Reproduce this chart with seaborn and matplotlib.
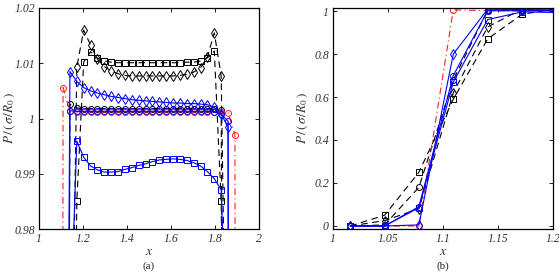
import pandas as pd
import seaborn as sns
import matplotlib.pyplot as plt

# cell centres of the grid (shared by both panels)
x_grid = [1.0156, 1.0469, 1.0781, 1.1094, 1.1406, 1.1719, 1.2031, 1.2344,
          1.2656, 1.2969, 1.3281, 1.3594, 1.3906, 1.4219, 1.4531, 1.4844,
          1.5156, 1.5469, 1.5781, 1.6094, 1.6406, 1.6719, 1.7031, 1.7344,
          1.7656, 1.7969, 1.8281, 1.8594, 1.8906, 1.9219, 1.9531, 1.9844]

black_sq = [0, 0.05, 0.25, 0.59, 0.87, 0.985, 1.0102, 1.0121,
            1.0109, 1.0104, 1.0102, 1.0101, 1.0101, 1.0101, 1.0101, 1.0101,
            1.0101, 1.0101, 1.0101, 1.0101, 1.0101, 1.0102, 1.0102, 1.0104,
            1.0110, 1.0122, 0.985, 0.87, 0.59, 0.25, 0.05, 0]
black_di = [0, 0.025, 0.08, 0.62, 0.926, 1.0093, 1.0160, 1.0133,
            1.0107, 1.0094, 1.0086, 1.0081, 1.0078, 1.0077, 1.0077, 1.0077,
            1.0077, 1.0077, 1.0077, 1.0077, 1.0078, 1.0080, 1.0084, 1.0092,
            1.0112, 1.0155, 1.0077, 0.926, 0.62, 0.08, 0.025, 0]
black_ci = [0, 0.005, 0.18, 0.68, 1.0026, 1.0019, 1.0018, 1.0018,
            1.0018, 1.0018, 1.0018, 1.0018, 1.0018, 1.0018, 1.0018, 1.0018,
            1.0018, 1.0018, 1.0018, 1.0018, 1.0018, 1.0018, 1.0018, 1.0018,
            1.0018, 1.0017, 1.0015, 0.75, 0.3, 0.02, 0, 0]
red_ci = [0, 0, 0, 1.0056, 1.0013, 1.0012, 1.0012, 1.0012,
          1.0012, 1.0012, 1.0012, 1.0012, 1.0012, 1.0012, 1.0012, 1.0012,
          1.0012, 1.0012, 1.0012, 1.0012, 1.0012, 1.0012, 1.0012, 1.0012,
          1.0012, 1.0012, 1.0011, 1.0010, 0.9971, 0, 0, 0]
blue_sq = [0, 0, 0.085, 0.67, 0.96, 0.9959, 0.9930, 0.9914,
           0.9907, 0.9903, 0.9903, 0.9904, 0.9908, 0.9911, 0.9915, 0.9918,
           0.9922, 0.9925, 0.9926, 0.9927, 0.9926, 0.9924, 0.9920, 0.9914,
           0.9904, 0.9891, 0.9871, 0.95, 0.6, 0, 0, 0]
blue_ci = [0, 0, 0.09, 0.70, 1.0014, 1.0013, 1.0013, 1.0013,
           1.0013, 1.0013, 1.0013, 1.0013, 1.0013, 1.0013, 1.0013, 1.0013,
           1.0013, 1.0013, 1.0013, 1.0013, 1.0013, 1.0013, 1.0013, 1.0013,
           1.0013, 1.0012, 1.0008, 0.9995, 0.05, 0, 0, 0]
blue_di = [0, 0, 0.005, 0.80, 1.0085, 1.0067, 1.0056, 1.0050,
           1.0046, 1.0043, 1.0040, 1.0038, 1.0036, 1.0034, 1.0033, 1.0032,
           1.0031, 1.0030, 1.0029, 1.0028, 1.0028, 1.0027, 1.0027, 1.0026,
           1.0025, 1.0020, 1.0008, 0.9984, 0.05, 0, 0, 0]

left_xticks = [1, 1.2, 1.4, 1.6, 1.8, 2]
left_xlabels = ['1', '1.2', '1.4', '1.6', '1.8', '2']
left_yticks = [0.98, 0.99, 1.0, 1.01, 1.02]
left_ylabels = ['0.98', '0.99', '1', '1.01', '1.02']
right_xticks = [1, 1.05, 1.1, 1.15, 1.2]
right_xlabels = ['1', '1.05', '1.1', '1.15', '1.2']
right_yticks = [0, 0.2, 0.4, 0.6, 0.8, 1]
right_ylabels = ['0', '0.2', '0.4', '0.6', '0.8', '1']

sns.set_style('ticks')
plt.rcParams['font.family'] = ['Liberation Serif', 'DejaVu Serif']
plt.rcParams['mathtext.fontset'] = 'stix'

series = [
    ('black_sq', black_sq, 'black', (0, (6, 4)), 's'),
    ('black_di', black_di, 'black', (0, (6, 4)), 'd'),
    ('black_ci', black_ci, 'black', (0, (6, 4)), 'o'),
    ('red_ci', red_ci, '#ff2020', (0, (6, 3, 1, 3)), 'o'),
    ('blue_sq', blue_sq, '#0000ff', '-', 's'),
    ('blue_ci', blue_ci, '#0000ff', '-', 'o'),
    ('blue_di', blue_di, '#0000ff', '-', 'd'),
]

frames = []
for name, vals, _, _, _ in series:
    frames.append(pd.DataFrame({'x': x_grid, 'P': vals, 'series': name}))
df = pd.concat(frames, ignore_index=True)

fig = plt.figure(figsize=(5.59, 2.75), dpi=100)
ax_a = fig.add_axes([39 / 559, 46 / 275, 220 / 559, 221 / 275])
ax_b = fig.add_axes([333 / 559, 46 / 275, 220 / 559, 221 / 275])

for ax in (ax_a, ax_b):
    for name, _, col, ls, mk in series:
        sub = df[df['series'] == name]
        sns.lineplot(data=sub, x='x', y='P', ax=ax, color=col, linestyle=ls,
                     lw=0.8, marker=mk, markersize=5 if mk == 'd' else 4.3,
                     markerfacecolor='none', markeredgecolor=col,
                     markeredgewidth=0.7, errorbar=None, clip_on=True)

ax_a.set_xlim(1, 2)
ax_a.set_ylim(0.98, 1.02)
ax_a.set_xticks(left_xticks, labels=left_xlabels)
ax_a.set_yticks(left_yticks, labels=left_ylabels)

ax_b.set_xlim(1, 1.2)
ax_b.set_ylim(-0.014, 1.014)
ax_b.set_xticks(right_xticks, labels=right_xlabels)
ax_b.set_yticks(right_yticks, labels=right_ylabels)

for ax, lx in ((ax_a, -0.098), (ax_b, -0.105)):
    ax.tick_params(direction='in', length=3, width=0.6, top=True, right=True,
                   labelsize=8.5, pad=3, colors='black')
    for lbl in ax.get_xticklabels() + ax.get_yticklabels():
        lbl.set_fontstyle('italic')
        lbl.set_color('#333333')
    for sp in ax.spines.values():
        sp.set_linewidth(0.9)
        sp.set_color('black')
    ax.set_xlabel(r'$x$', fontsize=10, color='#333333')
    ax.set_ylabel(r'$P\,/\,(\,\sigma/R_0\,)$', fontsize=9.5, color='#333333')
    ax.xaxis.set_label_coords(0.5, -0.072)
    ax.yaxis.set_label_coords(lx, 0.5)

fig.text(149 / 559, 9 / 275, '(a)', ha='center', va='center', fontsize=8)
fig.text(443 / 559, 9 / 275, '(b)', ha='center', va='center', fontsize=8)

fig.savefig('out.png', dpi=100)
